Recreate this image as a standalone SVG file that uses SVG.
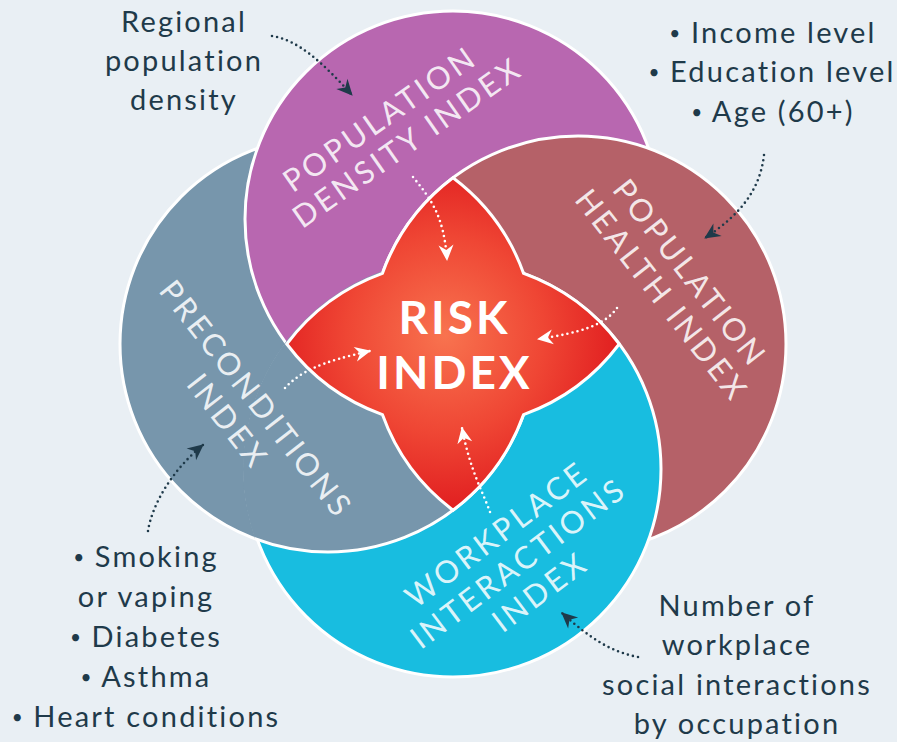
<svg xmlns="http://www.w3.org/2000/svg" width="897" height="742" viewBox="0 0 897 742">
<defs>
<style>
.ann{font-family:Lato,"Open Sans",sans-serif;font-size:29px;fill:#1f3a4a;letter-spacing:2.2px;text-anchor:middle}
.b{font-size:19px;letter-spacing:1px}
.lbl{font-family:Lato,"Open Sans",sans-serif;font-weight:400;font-size:31px;fill:#ffffff;fill-opacity:0.86;letter-spacing:3.3px;text-anchor:middle}
.risk{font-family:Lato,"Open Sans",sans-serif;font-weight:700;font-size:46px;fill:#ffffff;letter-spacing:3px;text-anchor:middle}
.circ{stroke:#ffffff;stroke-width:3}
.dk{fill:none;stroke:#1f3a4a;stroke-width:2.6;stroke-linecap:round;stroke-dasharray:0 5.2}
.wt{fill:none;stroke:#ffffff;stroke-width:2.6;stroke-linecap:round;stroke-dasharray:0 5.2}
</style>
<clipPath id="clipC"><circle cx="453" cy="469" r="210"/></clipPath>
<radialGradient id="rg" gradientUnits="userSpaceOnUse" cx="445" cy="335" r="180">
<stop offset="0" stop-color="#f8734f"/>
<stop offset="0.55" stop-color="#ef4634"/>
<stop offset="1" stop-color="#e01c1f"/>
</radialGradient>
<marker id="ahD" markerUnits="userSpaceOnUse" markerWidth="19" markerHeight="18" viewBox="-17 -9 19 18" refX="0" refY="0" orient="auto">
<path d="M1,0 L-15,-7.5 L-10,0 L-15,7.5 Z" fill="#1f3a4a"/>
</marker>
<marker id="ahW" markerUnits="userSpaceOnUse" markerWidth="19" markerHeight="18" viewBox="-17 -9 19 18" refX="0" refY="0" orient="auto">
<path d="M1,0 L-15,-7.5 L-10,0 L-15,7.5 Z" fill="#ffffff"/>
</marker>
</defs>
<rect x="0" y="0" width="897" height="742" fill="#e9eff4"/>

<g id="node-preconditions-base">
<circle class="circ" cx="328" cy="344" r="208" fill="#7796ac"/>
</g>

<g id="node-population-density">
<circle class="circ" cx="453" cy="219" r="208" fill="#b867b0"/>
<g transform="translate(392,131) rotate(-35)">
<text class="lbl" x="-3" y="-6">POPULATION</text>
<text class="lbl" x="6" y="29">DENSITY INDEX</text>
</g>
</g>

<g id="node-population-health">
<circle class="circ" cx="578" cy="344" r="208" fill="#b56168"/>
<g transform="translate(675,283) rotate(52)">
<text class="lbl" x="1.6" y="-7">POPULATION</text>
<text class="lbl" x="1.6" y="29">HEALTH INDEX</text>
</g>
</g>

<g id="node-workplace-interactions">
<circle class="circ" cx="453" cy="469" r="208" fill="#18bde0"/>
<g transform="translate(517,564) rotate(-37)">
<text class="lbl" x="1.6" y="-25">WORKPLACE</text>
<text class="lbl" x="1.6" y="11">INTERACTIONS</text>
<text class="lbl" x="1.6" y="47">INDEX</text>
</g>
</g>

<g id="node-preconditions">
<circle class="circ" cx="328" cy="344" r="208" fill="#7796ac" clip-path="url(#clipC)"/>
<g transform="translate(241,409) rotate(52)">
<text class="lbl" x="1.6" y="-7">PRECONDITIONS</text>
<text class="lbl" x="1.6" y="29">INDEX</text>
</g>
</g>

<g id="node-risk-index">
<path d="M453,177.75 A208,208 0 0 0 382.4,273.4 A208,208 0 0 0 286.75,344 A208,208 0 0 0 382.4,414.6 A208,208 0 0 0 453,510.25 A208,208 0 0 0 523.6,414.6 A208,208 0 0 0 619.25,344 A208,208 0 0 0 523.6,273.4 A208,208 0 0 0 453,177.75 Z" fill="url(#rg)" stroke="#ffffff" stroke-width="3"/>
<text class="risk" x="454.5" y="334">RISK</text>
<text class="risk" x="454.5" y="389">INDEX</text>
</g>

<g id="connectors">
<path class="dk" d="M272,36 C298,40 322,62 352,95" marker-end="url(#ahD)"/>
<path class="dk" d="M764,155 C760,190 740,215 705,238" marker-end="url(#ahD)"/>
<path class="dk" d="M148,531 C152,505 172,470 203,445" marker-end="url(#ahD)"/>
<path class="dk" d="M638,657 C612,652 592,640 562,613" marker-end="url(#ahD)"/>
<path class="wt" d="M413,177 C430,198 444,215 447,260" marker-end="url(#ahW)"/>
<path class="wt" d="M617,308 C605,325 580,333 538,339" marker-end="url(#ahW)"/>
<path class="wt" d="M285,388 C300,372 320,362 370,351" marker-end="url(#ahW)"/>
<path class="wt" d="M490,512 C482,490 470,470 462,428" marker-end="url(#ahW)"/>
</g>

<g id="annotations">
<text class="ann" x="184" y="32">Regional</text>
<text class="ann" x="184" y="71">population</text>
<text class="ann" x="184" y="110">density</text>
<text class="ann" x="773" y="43"><tspan class="b" baseline-shift="3">•</tspan> Income level</text>
<text class="ann" x="772" y="82"><tspan class="b" baseline-shift="3">•</tspan> Education level</text>
<text class="ann" x="773" y="122"><tspan class="b" baseline-shift="3">•</tspan> Age (60+)</text>
<text class="ann" x="146" y="567"><tspan class="b" baseline-shift="3">•</tspan> Smoking</text>
<text class="ann" x="146" y="607">or vaping</text>
<text class="ann" x="146" y="647"><tspan class="b" baseline-shift="3">•</tspan> Diabetes</text>
<text class="ann" x="146" y="687"><tspan class="b" baseline-shift="3">•</tspan> Asthma</text>
<text class="ann" x="146" y="727"><tspan class="b" baseline-shift="3">•</tspan> Heart conditions</text>
<text class="ann" x="737" y="616">Number of</text>
<text class="ann" x="737" y="655">workplace</text>
<text class="ann" x="737" y="695">social interactions</text>
<text class="ann" x="737" y="734">by occupation</text>
</g>
</svg>
